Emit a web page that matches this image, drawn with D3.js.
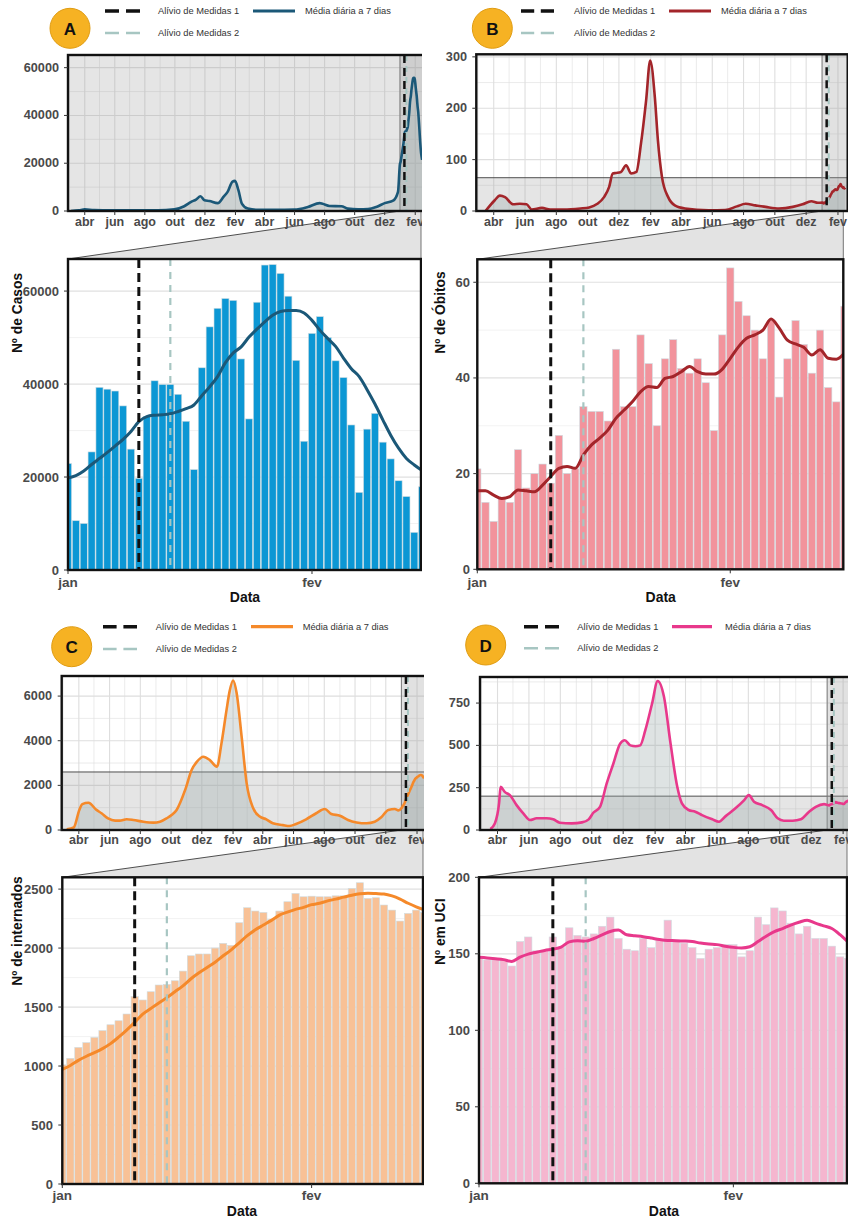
<!DOCTYPE html>
<html>
<head>
<meta charset="utf-8">
<script src="https://cdn.jsdelivr.net/npm/d3@7"></script>
<style>
  body { margin: 0; background: #ffffff; }
  svg { display: block; }
</style>
</head>
<body>
<svg id="fig" width="848" height="1220"></svg>
<script>
// ---------- shared categories ----------
const monthNames = ["jan", "fev", "mar", "abr", "mai", "jun", "jul", "ago", "set", "out", "nov", "dez"];
const overviewTicks = ["2020-04-01", "2020-06-01", "2020-08-01", "2020-10-01", "2020-12-01", "2021-02-01",
                       "2021-04-01", "2021-06-01", "2021-08-01", "2021-10-01", "2021-12-01", "2022-02-01"];
const zoomTicks = ["2022-01-01", "2022-02-01"];
const zoomStart = "2022-01-01";          // first daily bar
const relief1 = "2022-01-10";            // Alívio de Medidas 1
const relief2 = "2022-01-14";            // Alívio de Medidas 2
const legendLabels = ["Alívio de Medidas 1", "Alívio de Medidas 2", "Média diária a 7 dias"];

// ---------- A: casos ----------
const casesDaily = [22900, 10600, 10000, 25400, 39300, 38900, 38500, 35300, 26000, 19700, 33000, 40700,
  39900, 39900, 37800, 32000, 21600, 43500, 52300, 56300, 58400, 58000, 45400, 32500, 57600, 65600, 65700,
  63800, 58900, 45100, 27700, 50900, 54500, 50000, 45000, 41400, 31200, 16700, 30300, 33700, 27500, 23900,
  19200, 15800, 8100, 17900];
const casesAvg = [19800, 20300, 21300, 22700, 24000, 25300, 26700, 28100, 29800, 31900, 33000, 33300, 33400,
  33600, 34100, 34700, 35500, 37500, 39400, 41600, 44600, 46700, 48000, 50100, 51800, 53400, 54800, 55600,
  55800, 55800, 55300, 53700, 51600, 49800, 48100, 45600, 43300, 41600, 38800, 35700, 32300, 29000, 26200,
  24000, 22600, 21400];
const casesTrendDates = ["2020-03-04", "2020-03-20", "2020-04-01", "2020-04-20", "2020-05-24", "2020-07-10",
  "2020-08-27", "2020-09-30", "2020-10-20", "2020-11-03", "2020-11-13", "2020-11-22", "2020-11-30",
  "2020-12-10", "2020-12-27", "2021-01-08", "2021-01-16", "2021-01-26", "2021-01-31", "2021-02-07",
  "2021-02-14", "2021-02-26", "2021-03-18", "2021-04-21", "2021-06-01", "2021-06-28", "2021-07-22",
  "2021-07-28", "2021-08-11", "2021-09-04", "2021-09-17", "2021-10-08", "2021-10-28", "2021-11-14",
  "2021-12-01", "2021-12-18", "2021-12-28"];
const casesTrendValues = [0, 250, 700, 350, 250, 300, 300, 700, 2000, 3800, 4800, 6200, 4500, 4200, 3300,
  6000, 8000, 12300, 12600, 8700, 3100, 1000, 500, 500, 600, 1700, 3300, 3000, 2100, 2000, 1000, 700, 800,
  1700, 3300, 4300, 8000];
const casesTopTicks = [0, 20000, 40000, 60000];
const casesZoomTicks = [0, 20000, 40000, 60000];

// ---------- B: óbitos ----------
const deathsDaily = [21, 14, 10, 15, 14, 25, 17, 20, 22, 18, 28, 20, 21, 34, 33, 33, 31, 46, 34, 34, 49, 43,
  30, 44, 48, 42, 41, 44, 39, 29, 49, 63, 56, 53, 50, 44, 52, 36, 44, 52, 47, 41, 50, 38, 35, 55];
const deathsAvg = [16.4, 16.4, 15.5, 14.8, 15.2, 16.6, 16.4, 16.2, 17.6, 19.4, 21.1, 21.5, 21.1, 23.9, 26,
  27.4, 29.1, 31.6, 33.3, 35, 37.1, 38.2, 38, 39.9, 40.3, 41.3, 42.4, 41.3, 40.8, 40.8, 41.8, 44.1, 46.5,
  48.3, 49, 50, 52.3, 50.4, 47.9, 47.1, 46.4, 44.8, 45.9, 44.1, 43.9, 45.2];
const deathsTrendDates = ["2020-03-16", "2020-04-03", "2020-04-13", "2020-04-23", "2020-05-09", "2020-05-22",
  "2020-06-04", "2020-06-14", "2020-07-04", "2020-07-20", "2020-08-15", "2020-09-17", "2020-10-04",
  "2020-10-20", "2020-11-02", "2020-11-12", "2020-11-19", "2020-11-25", "2020-12-05", "2020-12-15",
  "2020-12-25", "2021-01-04", "2021-01-13", "2021-01-23", "2021-01-31", "2021-02-09", "2021-02-15",
  "2021-02-23", "2021-03-07", "2021-03-20", "2021-04-09", "2021-05-25", "2021-06-26", "2021-07-19",
  "2021-08-05", "2021-08-24", "2021-09-13", "2021-10-09", "2021-11-05", "2021-11-24", "2021-12-11",
  "2021-12-24"];
const deathsTrendValues = [0, 21, 30, 27, 13, 14, 13, 3, 6, 3, 3, 5, 7, 14, 27, 47, 73, 74, 76, 89, 73, 76,
  131, 215, 293, 222, 138, 66, 27, 11, 5, 1.5, 2, 9, 14, 11, 8, 5, 8, 13, 19, 16];
const deathsTopTicks = [0, 100, 200, 300];
const deathsZoomTicks = [0, 20, 40, 60];

// ---------- C: internados ----------
const hospDaily = [1010, 1065, 1158, 1198, 1243, 1300, 1350, 1384, 1441, 1588, 1560, 1630, 1687, 1692, 1723,
  1805, 1935, 1950, 1950, 2000, 2040, 2023, 2215, 2342, 2314, 2302, 2243, 2314, 2393, 2463, 2435, 2440,
  2435, 2435, 2443, 2443, 2506, 2554, 2421, 2427, 2365, 2322, 2229, 2294, 2322, 2300];
const hospAvg = [972, 1005, 1048, 1083, 1113, 1148, 1190, 1245, 1305, 1370, 1440, 1488, 1535, 1580, 1630,
  1680, 1740, 1790, 1835, 1880, 1935, 1985, 2045, 2105, 2155, 2195, 2235, 2280, 2305, 2328, 2345, 2368,
  2380, 2400, 2415, 2432, 2448, 2460, 2465, 2462, 2458, 2442, 2415, 2380, 2350, 2325];
const hospTrendDates = ["2020-03-08", "2020-03-22", "2020-04-02", "2020-04-08", "2020-04-20", "2020-05-06",
  "2020-05-16", "2020-05-29", "2020-06-12", "2020-06-21", "2020-07-05", "2020-07-18", "2020-08-07",
  "2020-08-27", "2020-09-09", "2020-09-22", "2020-10-02", "2020-10-12", "2020-10-29", "2020-11-11",
  "2020-11-21", "2020-12-04", "2020-12-17", "2020-12-31", "2021-01-09", "2021-01-19", "2021-01-25",
  "2021-02-01", "2021-02-08", "2021-02-18", "2021-02-28", "2021-03-13", "2021-03-26", "2021-04-08",
  "2021-04-21", "2021-05-11", "2021-05-24", "2021-06-06", "2021-06-26", "2021-07-16", "2021-08-02",
  "2021-08-15", "2021-09-01", "2021-09-17", "2021-10-04", "2021-10-24", "2021-11-09", "2021-11-22",
  "2021-12-06", "2021-12-19", "2021-12-26"];
const hospTrendValues = [30, 120, 900, 1160, 1220, 900, 750, 520, 420, 420, 480, 450, 370, 330, 370, 520, 670,
  900, 1800, 2700, 3050, 3280, 3130, 2840, 3880, 5370, 6200, 6700, 6150, 4180, 2090, 970, 600, 480, 300,
  220, 180, 270, 480, 750, 940, 720, 640, 450, 340, 300, 370, 570, 900, 940, 880];
const hospTopTicks = [0, 2000, 4000, 6000];
const hospZoomTicks = [0, 500, 1000, 1500, 2000, 2500];

// ---------- D: UCI ----------
const icuDaily = [148, 146, 146, 146, 142, 158, 161, 152, 152, 161, 154, 167, 162, 161, 163, 168, 174, 160,
  153, 152, 160, 154, 159, 172, 159, 157, 154, 147, 153, 154, 156, 156, 148, 152, 174, 169, 180, 178, 170,
  163, 168, 160, 160, 155, 148, 147];
const icuAvg = [147.7, 147.3, 146.8, 146.2, 145, 147.8, 149.8, 151, 152.2, 153, 154.3, 157.8, 158.5, 158.2,
  160, 162.3, 164.6, 165.5, 162.4, 161.8, 161.2, 160.3, 159.3, 158.7, 158.6, 158.4, 158, 157, 156.4, 156,
  155, 154.2, 153.8, 154.6, 158, 161.5, 164.5, 166.5, 168.8, 170.6, 172, 170, 168.3, 166.5, 162.5, 157.5];
const icuTrendDates = ["2020-03-18", "2020-03-27", "2020-04-04", "2020-04-07", "2020-04-15", "2020-04-25",
  "2020-05-08", "2020-05-21", "2020-06-03", "2020-06-16", "2020-07-05", "2020-07-18", "2020-07-31",
  "2020-08-23", "2020-09-12", "2020-09-25", "2020-10-04", "2020-10-17", "2020-10-30", "2020-11-12",
  "2020-11-25", "2020-12-04", "2020-12-15", "2020-12-25", "2021-01-03", "2021-01-13", "2021-01-26",
  "2021-02-06", "2021-02-18", "2021-03-03", "2021-03-16", "2021-03-25", "2021-04-07", "2021-04-20",
  "2021-05-03", "2021-05-23", "2021-06-05", "2021-06-18", "2021-07-07", "2021-07-24", "2021-08-02",
  "2021-08-12", "2021-08-28", "2021-09-14", "2021-09-27", "2021-10-09", "2021-10-26", "2021-11-11",
  "2021-11-27", "2021-12-10", "2021-12-26"];
const icuTrendValues = [5, 40, 157, 255, 225, 206, 147, 98, 59, 69, 69, 63, 43, 39, 45, 63, 102, 137, 275,
  393, 510, 530, 500, 495, 500, 590, 746, 880, 790, 510, 255, 157, 118, 108, 88, 63, 49, 82, 128, 177, 206,
  167, 147, 118, 69, 55, 55, 63, 108, 137, 153];
const icuTopTicks = [0, 250, 500, 750];
const icuZoomTicks = [0, 50, 100, 150, 200];

// ---------- layout and styling of the four panels ----------
const panels = [
  { id: "A", daily: casesDaily, avg: casesAvg, trendDates: casesTrendDates, trendValues: casesTrendValues,
    topTicks: casesTopTicks, zoomTicks: casesZoomTicks, topMax: 65300, zoomMax: 66900,
    yTitle: "Nº de Casos", barColor: "#0c97d4", lineColor: "#1b5878",
    clip: [0, 0, 422, 610], badge: [70, 28.3],
    legend: { y: [11, 33], dash: [105, 140], dashText: 158, solid: [253, 295], solidText: 305 },
    top: { x0: 68, x1: 424.6, y0: 55, y1: 211, labX: 62, labY: 222 },
    zoom: { x0: 68, x1: 421, y0: 259, y1: 570, labX: 62, labY: 582, titleX: 17, titleY: 313, dataX: 245, dataY: 597 } },
  { id: "B", daily: deathsDaily, avg: deathsAvg, trendDates: deathsTrendDates, trendValues: deathsTrendValues,
    topTicks: deathsTopTicks, zoomTicks: deathsZoomTicks, topMax: 305, zoomMax: 64.8,
    yTitle: "Nº de Óbitos", barColor: "#f2939c", lineColor: "#a3252a",
    clip: [424, 0, 848, 610], badge: [492.3, 28.3],
    legend: { y: [11, 33], dash: [521, 554], dashText: 574, solid: [669, 711], solidText: 721 },
    top: { x0: 476.3, x1: 847.7, y0: 54.3, y1: 211, labX: 470, labY: 222 },
    zoom: { x0: 477.3, x1: 843.3, y0: 259.3, y1: 569.3, labX: 473, labY: 582, titleX: 440.7, titleY: 312.5, dataX: 660.7, dataY: 597 } },
  { id: "C", daily: hospDaily, avg: hospAvg, trendDates: hospTrendDates, trendValues: hospTrendValues,
    topTicks: hospTopTicks, zoomTicks: hospZoomTicks, topMax: 6900, zoomMax: 2600,
    yTitle: "Nº de internados", barColor: "#f8c196", lineColor: "#f5892a",
    clip: [0, 610, 424, 1220], badge: [71.7, 646.7],
    legend: { y: [626.7, 649], dash: [103, 137], dashText: 155.7, solid: [251, 293], solidText: 302.7 },
    top: { x0: 61.7, x1: 426.6, y0: 676, y1: 830, labX: 55, labY: 840 },
    zoom: { x0: 62.3, x1: 423, y0: 877.3, y1: 1184, labX: 56, labY: 1195.5, titleX: 17, titleY: 931, dataX: 242, dataY: 1210.7 } },
  { id: "D", daily: icuDaily, avg: icuAvg, trendDates: icuTrendDates, trendValues: icuTrendValues,
    topTicks: icuTopTicks, zoomTicks: icuZoomTicks, topMax: 904, zoomMax: 200,
    yTitle: "Nº em UCI", barColor: "#f5b6cf", lineColor: "#e8388b",
    clip: [424, 610, 848, 1220], badge: [485.7, 645],
    legend: { y: [626.7, 648.3], dash: [524, 559], dashText: 577.3, solid: [672, 712], solidText: 725 },
    top: { x0: 480, x1: 852.9, y0: 677, y1: 830, labX: 473, labY: 840 },
    zoom: { x0: 479, x1: 847, y0: 877.3, y1: 1183.3, labX: 473, labY: 1195.5, titleX: 440.7, titleY: 931.7, dataX: 664, dataY: 1211 } }
];

const FONT = "'Liberation Sans', Arial, Helvetica, sans-serif";
const parseDate = d3.timeParse("%Y-%m-%d");
const overviewDomain = [parseDate("2020-02-27"), parseDate("2022-02-20")];
const zoomFrom = parseDate(zoomStart);
const zoomTo = new Date(zoomFrom.getTime() + 44.85 * 864e5);
const reliefDates = [parseDate(relief1), parseDate(relief2)];
const overviewTickDates = overviewTicks.map(parseDate);
const zoomTickDates = zoomTicks.map(parseDate);
const monthLabel = d => monthNames[d.getMonth()];

const dashBlack = { stroke: "#111111", width: 3, dash: "9,5" };
const dashTeal = { stroke: "#a7c6c2", width: 2.2, dash: "7,6" };

const fig = d3.select("#fig");
const defs = fig.append("defs");

// midpoints between major ticks, used for the minor grid
function minorTicks(ticks, max) {
  const step = ticks[1] - ticks[0];
  const out = [];
  for (let v = ticks[0] + step / 2; v < max; v += step) out.push(v);
  return out;
}

function addClip(id, x0, y0, x1, y1) {
  defs.append("clipPath").attr("id", id).append("rect")
    .attr("x", x0).attr("y", y0).attr("width", x1 - x0).attr("height", y1 - y0);
  return `url(#${id})`;
}

function vline(sel, x, y0, y1, style) {
  sel.append("line").attr("x1", x).attr("x2", x).attr("y1", y0).attr("y2", y1)
    .attr("stroke", style.stroke).attr("stroke-width", style.width).attr("stroke-dasharray", style.dash);
}

panels.forEach(p => {
  const T = p.top, Z = p.zoom;
  const g = fig.append("g").attr("clip-path", addClip(`quad-${p.id}`, ...p.clip));

  const xTop = d3.scaleTime().domain(overviewDomain).range([T.x0, T.x1]);
  const yTop = d3.scaleLinear().domain([0, p.topMax]).range([T.y1, T.y0]);
  const xZoom = d3.scaleTime().domain([zoomFrom, zoomTo]).range([Z.x0, Z.x1]);
  const yZoom = d3.scaleLinear().domain([0, p.zoomMax]).range([Z.y1, Z.y0]);

  const days = p.daily.map((_, i) => d3.timeDay.offset(zoomFrom, i));
  const dailyRows = days.map((d, i) => ({ date: d, value: p.daily[i], avg: p.avg[i] }));
  const trendRows = p.trendDates.map((d, i) => ({ date: parseDate(d), value: p.trendValues[i] }))
    .concat(dailyRows.map(r => ({ date: r.date, value: r.avg })));

  // ----- badge -----
  g.append("circle").attr("cx", p.badge[0]).attr("cy", p.badge[1]).attr("r", 20)
    .attr("fill", "#f6b223").attr("stroke", "#e09c12").attr("stroke-width", 1);
  g.append("text").attr("x", p.badge[0]).attr("y", p.badge[1] + 1)
    .attr("text-anchor", "middle").attr("dominant-baseline", "central")
    .attr("font-family", FONT).attr("font-weight", "bold").attr("font-size", 17).attr("fill", "#111")
    .text(p.id);

  // ----- legend -----
  const L = p.legend;
  const legendItems = [
    { x: L.dash, y: L.y[0], style: { stroke: "#111", width: 3.6 }, dashed: true, label: legendLabels[0], tx: L.dashText },
    { x: L.dash, y: L.y[1], style: { stroke: "#a7c6c2", width: 2.6 }, dashed: true, label: legendLabels[1], tx: L.dashText },
    { x: L.solid, y: L.y[0], style: { stroke: p.lineColor, width: 3.2 }, dashed: false, label: legendLabels[2], tx: L.solidText }
  ];
  legendItems.forEach(it => {
    const len = it.x[1] - it.x[0];
    g.append("line").attr("x1", it.x[0]).attr("x2", it.x[1]).attr("y1", it.y).attr("y2", it.y)
      .attr("stroke", it.style.stroke).attr("stroke-width", it.style.width)
      .attr("stroke-dasharray", it.dashed ? `${len * 0.4},${len * 0.2}` : null);
    g.append("text").attr("x", it.tx).attr("y", it.y).attr("dominant-baseline", "central")
      .attr("font-family", FONT).attr("font-size", 9.3).attr("fill", "#333").text(it.label);
  });

  // ----- connector between the overview zoom band and the zoomed panel -----
  const bandLeft = xTop(zoomFrom);
  g.append("path")
    .attr("d", `M${bandLeft},${T.y1}L${Z.x1},${T.y1}L${Z.x1},${Z.y0}L${Z.x0},${Z.y0}Z`)
    .attr("fill", "#e3e3e3");
  g.append("line").attr("x1", bandLeft).attr("y1", T.y1).attr("x2", Z.x0).attr("y2", Z.y0)
    .attr("stroke", "#3c3c3c").attr("stroke-width", 0.9);
  g.append("line").attr("x1", Z.x1).attr("y1", T.y1).attr("x2", Z.x1).attr("y2", Z.y0)
    .attr("stroke", "#666").attr("stroke-width", 0.9);

  // ----- overview panel -----
  const tg = g.append("g").attr("clip-path", addClip(`top-${p.id}`, T.x0, T.y0, T.x1, T.y1));
  tg.append("rect").attr("x", T.x0).attr("y", T.y0).attr("width", T.x1 - T.x0).attr("height", T.y1 - T.y0)
    .attr("fill", "#ffffff");

  const months = d3.timeMonth.range(overviewDomain[0], overviewDomain[1]);
  const isMajor = d => overviewTickDates.some(t => +t === +d);
  tg.selectAll(null).data(months).join("line")
    .attr("x1", d => xTop(d)).attr("x2", d => xTop(d)).attr("y1", T.y0).attr("y2", T.y1)
    .attr("stroke", "#dedede").attr("stroke-width", d => isMajor(d) ? 1.1 : 0.6);
  tg.selectAll(null).data(p.topTicks.concat(minorTicks(p.topTicks, p.topMax))).join("line")
    .attr("x1", T.x0).attr("x2", T.x1).attr("y1", d => yTop(d)).attr("y2", d => yTop(d))
    .attr("stroke", "#dedede").attr("stroke-width", d => p.topTicks.includes(d) ? 1.1 : 0.6);

  // y-range of the zoom shown as a horizontal band, x-range as a vertical band
  const bandTop = yTop(Math.min(p.zoomMax, p.topMax * 1.05));
  tg.append("rect").attr("x", T.x0).attr("y", bandTop).attr("width", T.x1 - T.x0).attr("height", T.y1 - bandTop)
    .attr("fill", "#9a9a9a").attr("fill-opacity", 0.26);
  tg.append("line").attr("x1", T.x0).attr("x2", T.x1).attr("y1", yTop(p.zoomMax)).attr("y2", yTop(p.zoomMax))
    .attr("stroke", "#4f4f4f").attr("stroke-width", 1);
  tg.append("rect").attr("x", bandLeft).attr("y", T.y0).attr("width", T.x1 - bandLeft).attr("height", T.y1 - T.y0)
    .attr("fill", "#9a9a9a").attr("fill-opacity", 0.3);
  tg.append("line").attr("x1", bandLeft).attr("x2", bandLeft).attr("y1", T.y0).attr("y2", T.y1)
    .attr("stroke", "#7a7a7a").attr("stroke-width", 1);

  const topArea = d3.area().curve(d3.curveMonotoneX)
    .x(d => xTop(d.date)).y0(yTop(0)).y1(d => yTop(d.value));
  const topLine = d3.line().curve(d3.curveMonotoneX)
    .x(d => xTop(d.date)).y(d => yTop(d.value));
  tg.append("path").datum(trendRows).attr("d", topArea)
    .attr("fill", "#9aa9a9").attr("fill-opacity", 0.33);
  tg.append("path").datum(trendRows).attr("d", topLine)
    .attr("fill", "none").attr("stroke", p.lineColor).attr("stroke-width", 2.6)
    .attr("stroke-linejoin", "round");

  vline(tg, xTop(reliefDates[1]), T.y0, T.y1, { stroke: dashTeal.stroke, width: 2, dash: "6,5" });
  vline(tg, xTop(reliefDates[0]), T.y0, T.y1, { stroke: dashBlack.stroke, width: 2.5, dash: "8,5" });

  g.append("rect").attr("x", T.x0).attr("y", T.y0).attr("width", T.x1 - T.x0).attr("height", T.y1 - T.y0)
    .attr("fill", "none").attr("stroke", "#111").attr("stroke-width", 2.4);

  // overview axes
  g.selectAll(null).data(p.topTicks).join("line")
    .attr("x1", T.x0 - 4).attr("x2", T.x0).attr("y1", d => yTop(d)).attr("y2", d => yTop(d))
    .attr("stroke", "#333").attr("stroke-width", 1);
  g.selectAll(null).data(p.topTicks).join("text")
    .attr("x", T.labX - 3).attr("y", d => yTop(d)).attr("text-anchor", "end").attr("dominant-baseline", "central")
    .attr("font-family", FONT).attr("font-weight", "bold").attr("font-size", 12.7).attr("fill", "#4a4a4a")
    .text(d => d);
  g.selectAll(null).data(overviewTickDates).join("line")
    .attr("x1", d => xTop(d)).attr("x2", d => xTop(d)).attr("y1", T.y1).attr("y2", T.y1 + 4)
    .attr("stroke", "#333").attr("stroke-width", 1);
  g.selectAll(null).data(overviewTickDates).join("text")
    .attr("x", d => xTop(d)).attr("y", T.labY).attr("text-anchor", "middle").attr("dominant-baseline", "central")
    .attr("font-family", FONT).attr("font-weight", "bold").attr("font-size", 12.5).attr("fill", "#4a4a4a")
    .text(monthLabel);

  // ----- zoomed panel -----
  const zg = g.append("g").attr("clip-path", addClip(`zoom-${p.id}`, Z.x0, Z.y0, Z.x1, Z.y1));
  zg.append("rect").attr("x", Z.x0).attr("y", Z.y0).attr("width", Z.x1 - Z.x0).attr("height", Z.y1 - Z.y0)
    .attr("fill", "#ffffff");
  const zMinor = minorTicks(p.zoomTicks, p.zoomMax);
  zg.selectAll(null).data(p.zoomTicks.concat(zMinor)).join("line")
    .attr("x1", Z.x0).attr("x2", Z.x1).attr("y1", d => yZoom(d)).attr("y2", d => yZoom(d))
    .attr("stroke", d => p.zoomTicks.includes(d) ? "#e0e0e0" : "#ececec")
    .attr("stroke-width", d => p.zoomTicks.includes(d) ? 1.2 : 0.7);

  const step = xZoom(d3.timeDay.offset(zoomFrom, 1)) - xZoom(zoomFrom);
  const bw = step * 0.9;
  zg.selectAll(null).data(dailyRows).join("rect")
    .attr("x", d => xZoom(d.date) - bw / 2).attr("width", bw)
    .attr("y", d => yZoom(d.value)).attr("height", d => yZoom(0) - yZoom(d.value))
    .attr("fill", p.barColor).attr("stroke", "#cfdde2").attr("stroke-width", 0.6);

  const zoomLine = d3.line().curve(d3.curveMonotoneX)
    .x(d => xZoom(d.date)).y(d => yZoom(d.avg));
  zg.append("path").datum(dailyRows).attr("d", zoomLine)
    .attr("fill", "none").attr("stroke", p.lineColor).attr("stroke-width", 3)
    .attr("stroke-linejoin", "round");

  vline(zg, xZoom(reliefDates[1]), Z.y0, Z.y1, dashTeal);
  vline(zg, xZoom(reliefDates[0]), Z.y0, Z.y1, dashBlack);

  g.append("rect").attr("x", Z.x0).attr("y", Z.y0).attr("width", Z.x1 - Z.x0).attr("height", Z.y1 - Z.y0)
    .attr("fill", "none").attr("stroke", "#111").attr("stroke-width", 2.4);

  // zoomed axes
  g.selectAll(null).data(p.zoomTicks).join("line")
    .attr("x1", Z.x0 - 4).attr("x2", Z.x0).attr("y1", d => yZoom(d)).attr("y2", d => yZoom(d))
    .attr("stroke", "#333").attr("stroke-width", 1);
  g.selectAll(null).data(p.zoomTicks).join("text")
    .attr("x", Z.labX - 3).attr("y", d => yZoom(d)).attr("text-anchor", "end").attr("dominant-baseline", "central")
    .attr("font-family", FONT).attr("font-weight", "bold").attr("font-size", 13).attr("fill", "#4a4a4a")
    .text(d => d);
  g.selectAll(null).data(zoomTickDates).join("line")
    .attr("x1", d => xZoom(d)).attr("x2", d => xZoom(d)).attr("y1", Z.y1).attr("y2", Z.y1 + 4)
    .attr("stroke", "#333").attr("stroke-width", 1);
  g.selectAll(null).data(zoomTickDates).join("text")
    .attr("x", d => xZoom(d)).attr("y", Z.labY).attr("text-anchor", "middle").attr("dominant-baseline", "central")
    .attr("font-family", FONT).attr("font-weight", "bold").attr("font-size", 13.5).attr("fill", "#4a4a4a")
    .text(monthLabel);

  g.append("text").attr("x", Z.dataX).attr("y", Z.dataY).attr("text-anchor", "middle")
    .attr("dominant-baseline", "central")
    .attr("font-family", FONT).attr("font-weight", "bold").attr("font-size", 14).attr("fill", "#111")
    .text("Data");
  g.append("text").attr("transform", `translate(${Z.titleX},${Z.titleY}) rotate(-90)`)
    .attr("text-anchor", "middle").attr("dominant-baseline", "central")
    .attr("font-family", FONT).attr("font-weight", "bold").attr("font-size", 13.8).attr("fill", "#111")
    .text(p.yTitle);
});
</script>
</body>
</html>
